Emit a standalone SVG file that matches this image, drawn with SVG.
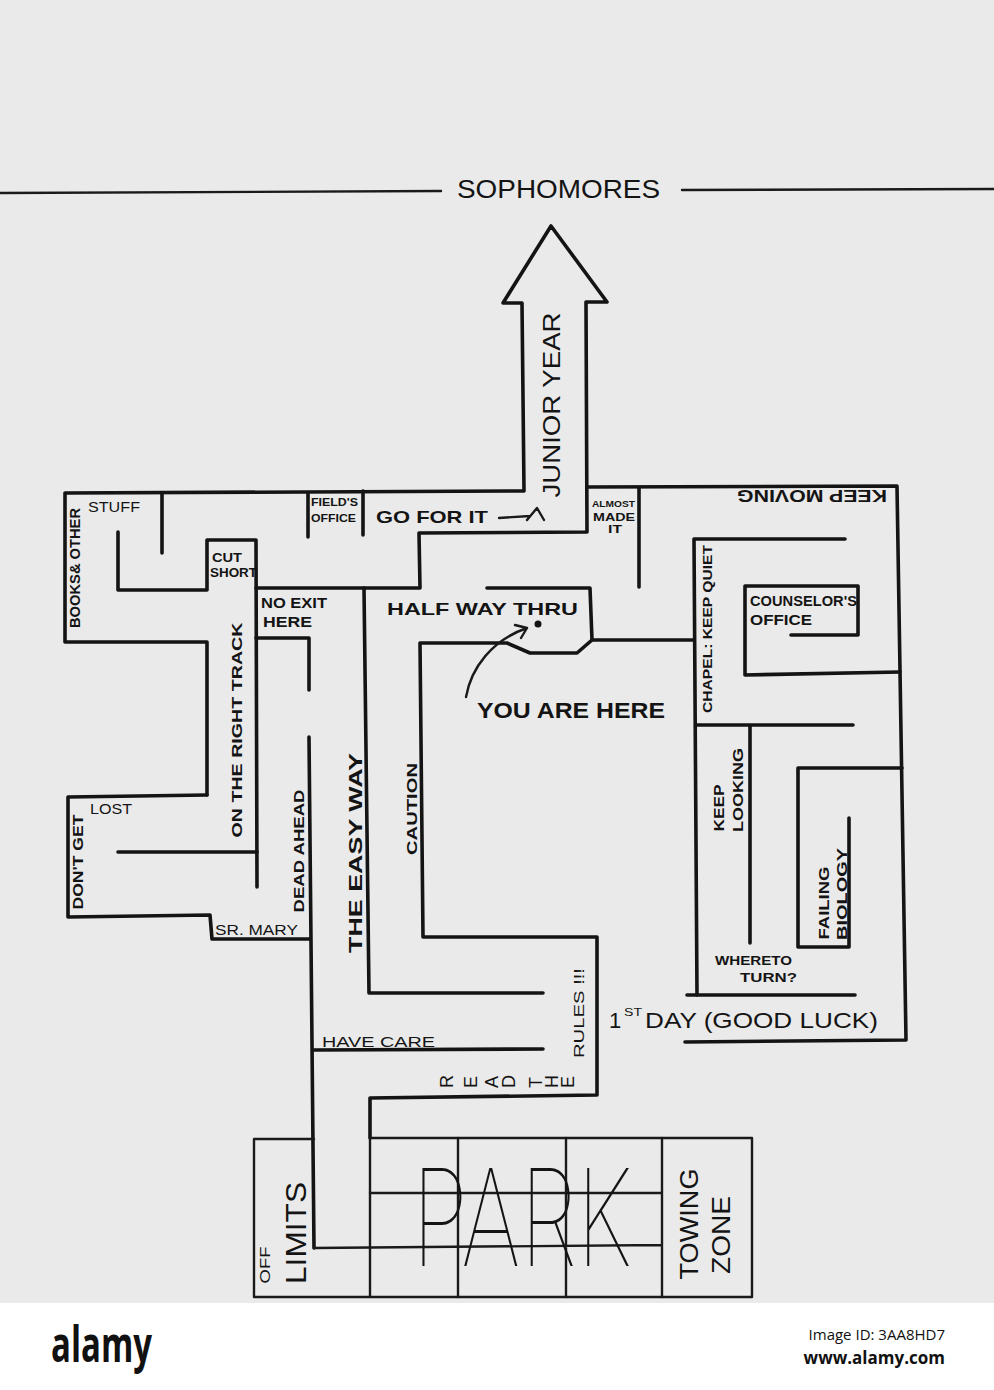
<svg xmlns="http://www.w3.org/2000/svg" width="994" height="1390" viewBox="0 0 994 1390">
<style>
.w{fill:none;stroke:#141414;stroke-width:3.6;stroke-linecap:round;stroke-linejoin:round}
.g{fill:none;stroke:#1a1a1a;stroke-width:2.4;stroke-linecap:round;stroke-linejoin:round}
.t{font-family:"Liberation Sans",Arial,sans-serif;font-weight:bold;fill:#141414}
.n{font-family:"Liberation Sans",Arial,sans-serif;font-weight:normal;fill:#141414}
.m{text-anchor:middle}
</style>
<rect x="0" y="0" width="994" height="1390" fill="#eaeaea"/>

<g id="header">
<path class="g" d="M0,193 L441,191 M682,190 L994,189"/>
<text class="n" x="457" y="198" font-size="26" textLength="203" lengthAdjust="spacingAndGlyphs">SOPHOMORES</text>
</g>

<g id="connectors">
<path class="w" d="M207,795 L207,642 L65,642 L65,493 L524,491 L522,303 L503,303 L551,226 L607,302 L586,302 L587,532 L419,533 L420,588 L256,588"/>
<path class="w" d="M207,795 L68,797 L68,917 L210,915 L212,939 L310,939"/>
<path class="w" d="M162,493 L162,553"/>
<path class="w" d="M118,532 L118,590 L207,590 L207,540 L256,540 L257,887"/>
<path class="w" d="M118,852 L257,852"/>
<path class="w" d="M256,638 L309,638 L309,690"/>
<path class="w" d="M309,737 L314,1248"/>
<path class="w" d="M308,493 L308,537 M363,491 L363,535"/>
<path class="w" d="M364,588 L369,993 L543,993"/>
<path class="w" d="M487,588 L590,588 L592,640 L577,653 L530,653 L507,643 L420,643 L423,937 L597,937 L597,1095 L370,1098 L370,1138"/>
<path class="w" d="M592,640 L693,640"/>
<path class="w" d="M845,539 L694,539 L697,995"/>
<path class="w" d="M314,1050 L543,1049"/>
<path class="w" d="M587,487 L897,486 L906,1040 L685,1042"/>
<path class="w" d="M639,488 L639,587"/>
<path class="w" d="M791,635 L858,635 L858,586 L745,586 L745,675 L900,672"/>
<path class="w" d="M697,725 L853,725 M750,725 L750,943"/>
<path class="w" d="M902,768 L798,768 L798,947 L849,947 L849,818"/>
<path class="w" d="M687,995 L855,995"/>
<path class="g" d="M314,1139 L254,1139 L254,1297 L752,1297 L752,1138 L370,1138 L370,1297"/>
<path class="g" d="M458,1138 L458,1297 M566,1138 L566,1297 M662,1138 L662,1297 M370,1193 L662,1193 M314,1248 L662,1245"/>
</g>

<g id="arrow-junior">
<text class="n m" transform="translate(551,405) rotate(-90)" x="0" y="8.5" font-size="24" textLength="185" lengthAdjust="spacingAndGlyphs">JUNIOR YEAR</text>
</g>

<g id="labels-left">
<text class="n" x="88" y="512" font-size="14" textLength="52" lengthAdjust="spacingAndGlyphs">STUFF</text>
<text class="t m" transform="translate(75,568) rotate(-90)" x="0" y="5" font-size="14" textLength="120" lengthAdjust="spacingAndGlyphs">BOOKS&amp; OTHER</text>
<text class="t" x="212" y="562" font-size="12" textLength="30" lengthAdjust="spacingAndGlyphs">CUT</text>
<text class="t" x="210" y="577" font-size="12" textLength="47" lengthAdjust="spacingAndGlyphs">SHORT</text>
<text class="t" x="261" y="608" font-size="15" textLength="66" lengthAdjust="spacingAndGlyphs">NO EXIT</text>
<text class="t" x="263" y="627" font-size="15" textLength="49" lengthAdjust="spacingAndGlyphs">HERE</text>
<text class="t m" transform="translate(236,730) rotate(-90)" x="0" y="5.5" font-size="15" textLength="215" lengthAdjust="spacingAndGlyphs">ON THE RIGHT TRACK</text>
<text class="n" x="90" y="814" font-size="14" textLength="42" lengthAdjust="spacingAndGlyphs">LOST</text>
<text class="t m" transform="translate(78,862) rotate(-90)" x="0" y="5" font-size="14" textLength="95" lengthAdjust="spacingAndGlyphs">DON'T GET</text>
<text class="n" x="215" y="935" font-size="14" textLength="83" lengthAdjust="spacingAndGlyphs">SR. MARY</text>
<text class="t m" transform="translate(298,851) rotate(-90)" x="0" y="5.5" font-size="15" textLength="123" lengthAdjust="spacingAndGlyphs">DEAD AHEAD</text>
</g>

<g id="labels-middle">
<text class="t" x="311" y="506" font-size="11" textLength="47" lengthAdjust="spacingAndGlyphs">FIELD'S</text>
<text class="t" x="311" y="522" font-size="11" textLength="45" lengthAdjust="spacingAndGlyphs">OFFICE</text>
<text class="t" x="376" y="523" font-size="17" textLength="112" lengthAdjust="spacingAndGlyphs">GO FOR IT</text>
<path class="g" d="M499,518 L530,516 M527,520 L537,508 L544,520"/>
<text class="t" x="387" y="615" font-size="17" textLength="191" lengthAdjust="spacingAndGlyphs">HALF WAY THRU</text>
<circle cx="538" cy="624" r="3.5" fill="#141414"/>
<path class="g" d="M466,697 C471,668 492,640 527,628 M515,625 L527,628 L521,638"/>
<text class="t" x="477" y="718" font-size="22" textLength="188" lengthAdjust="spacingAndGlyphs">YOU ARE HERE</text>
<text class="t m" transform="translate(355,853) rotate(-90)" x="0" y="6.5" font-size="18" textLength="200" lengthAdjust="spacingAndGlyphs">THE EASY WAY</text>
<text class="t m" transform="translate(412,809) rotate(-90)" x="0" y="5" font-size="14" textLength="92" lengthAdjust="spacingAndGlyphs">CAUTION</text>
<text class="n m" transform="translate(578,1013) rotate(-90)" x="0" y="5.5" font-size="15" textLength="90" lengthAdjust="spacingAndGlyphs">RULES !!!</text>
<text class="n" x="453 477 498 515 525 542 558 574" y="1088" rotate="-90" font-size="18">READ THE</text>
<text class="n" x="322" y="1047" font-size="15" textLength="113" lengthAdjust="spacingAndGlyphs">HAVE CARE</text>
</g>

<g id="labels-right">
<text class="t" x="592" y="507" font-size="9.5" textLength="43" lengthAdjust="spacingAndGlyphs">ALMOST</text>
<text class="t" x="593" y="521" font-size="10" textLength="42" lengthAdjust="spacingAndGlyphs">MADE</text>
<text class="t" x="608" y="533" font-size="10" textLength="14" lengthAdjust="spacingAndGlyphs">IT</text>
<text class="t m" transform="translate(812,496) rotate(180)" x="0" y="6" font-size="17" textLength="150" lengthAdjust="spacingAndGlyphs">KEEP MOVING</text>
<text class="t m" transform="translate(707,629) rotate(-90)" x="0" y="4.5" font-size="13" textLength="168" lengthAdjust="spacingAndGlyphs">CHAPEL: KEEP QUIET</text>
<text class="t" x="750" y="606" font-size="15" textLength="107" lengthAdjust="spacingAndGlyphs">COUNSELOR'S</text>
<text class="t" x="750" y="625" font-size="15" textLength="62" lengthAdjust="spacingAndGlyphs">OFFICE</text>
<text class="t m" transform="translate(718,808) rotate(-90)" x="0" y="5.5" font-size="15" textLength="47" lengthAdjust="spacingAndGlyphs">KEEP</text>
<text class="t m" transform="translate(737,790) rotate(-90)" x="0" y="5.5" font-size="15" textLength="84" lengthAdjust="spacingAndGlyphs">LOOKING</text>
<text class="t m" transform="translate(823,903) rotate(-90)" x="0" y="5.5" font-size="15" textLength="73" lengthAdjust="spacingAndGlyphs">FAILING</text>
<text class="t m" transform="translate(841,894) rotate(-90)" x="0" y="5.5" font-size="15" textLength="92" lengthAdjust="spacingAndGlyphs">BIOLOGY</text>
<text class="t" x="715" y="965" font-size="12" textLength="77" lengthAdjust="spacingAndGlyphs">WHERETO</text>
<text class="t" x="740" y="982" font-size="13" textLength="57" lengthAdjust="spacingAndGlyphs">TURN?</text>
<text class="n" x="609" y="1028" font-size="22">1</text>
<text class="n" x="624" y="1016" font-size="11" textLength="18" lengthAdjust="spacingAndGlyphs">ST</text>
<text class="n" x="645" y="1028" font-size="22" textLength="233" lengthAdjust="spacingAndGlyphs">DAY (GOOD LUCK)</text>
</g>

<g id="parking">
<text class="n m" transform="translate(265,1265) rotate(-90)" x="0" y="5" font-size="14" textLength="37" lengthAdjust="spacingAndGlyphs">OFF</text>
<text class="n m" transform="translate(295,1233) rotate(-90)" x="0" y="10.5" font-size="30" textLength="102" lengthAdjust="spacingAndGlyphs">LIMITS</text>
<text x="412" y="1266" font-family="Inter,'Liberation Sans',sans-serif" font-weight="100" font-size="135" fill="#141414" textLength="220" lengthAdjust="spacingAndGlyphs">PARK</text>
<text class="n m" transform="translate(689,1224) rotate(-90)" x="0" y="9" font-size="26" textLength="111" lengthAdjust="spacingAndGlyphs">TOWING</text>
<text class="n m" transform="translate(721,1235) rotate(-90)" x="0" y="9" font-size="26" textLength="78" lengthAdjust="spacingAndGlyphs">ZONE</text>
</g>

<g id="banner">
<rect x="0" y="1303" width="994" height="87" fill="#ffffff"/>
<text x="51" y="1362" font-family="'Open Sans',sans-serif" font-weight="700" font-size="50" fill="#111" textLength="101" lengthAdjust="spacingAndGlyphs">alamy</text>
<text x="945" y="1340" text-anchor="end" font-family="'Open Sans',sans-serif" font-size="15" fill="#111">Image ID: 3AA8HD7</text>
<text x="945" y="1364" text-anchor="end" font-family="'Open Sans',sans-serif" font-weight="700" font-size="17" fill="#111">www.alamy.com</text>
</g>
</svg>
